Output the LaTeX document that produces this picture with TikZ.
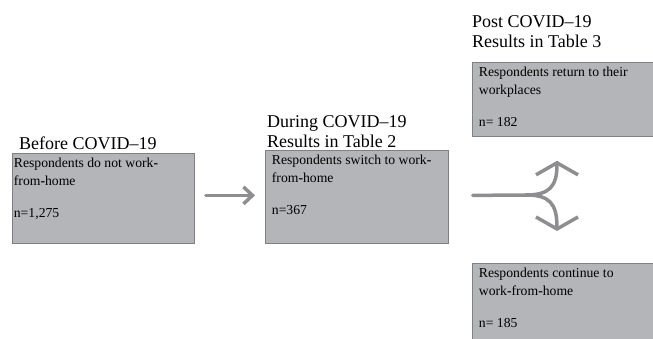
\documentclass[tikz,border=0pt]{standalone}
\usepackage{fontspec}
\setmainfont{Liberation Serif}
\usetikzlibrary{arrows.meta}
\definecolor{boxgray}{RGB}{180,181,184}
\definecolor{edgegray}{RGB}{128,128,130}
\definecolor{arrowgray}{RGB}{142,142,144}
\newcommand{\bh}{\textbf{-}}
\newcommand{\stage}[3]{\begin{minipage}[t][#1pt][t]{#2pt}\fontsize{13.7}{18}\selectfont\raggedright #3\end{minipage}}

\begin{document}
\begin{tikzpicture}[x=1pt, y=-1pt,
    stagebox/.style={draw=edgegray, line width=0.8pt, fill=boxgray, anchor=north west, inner xsep=6.5pt, inner ysep=4.5pt},
    period/.style={anchor=base west, inner sep=0pt, align=left, font=\fontsize{18}{20.5}\selectfont},
    flow/.style={draw=arrowgray, line width=3.5pt, line cap=round, -{Straight Barb[length=9pt, width=17pt]}},
    fork/.style={draw=arrowgray, line width=3.5pt, line cap=round, -{Straight Barb[length=12pt, width=42pt]}}]

  \useasboundingbox (0,0) rectangle (653,339);

  % Period headings (base = last line)
  \node[period] (before title) at (19,150) {Before COVID--19};
  \node[period] (during title) at (267,148) {During COVID--19\\Results in Table 2};
  \node[period] (post title) at (472,48) {Post COVID--19\\Results in Table 3};

  % Boxes
  \node[stagebox, inner xsep=1.5pt] (before) at (12,153)
    {\stage{81}{179}{Respondents do not work\bh\\from\bh home\\[14.5pt]n=1,275}};
  \node[stagebox] (during) at (265,150)
    {\stage{84}{170}{Respondents switch to work\bh\\from\bh home\\[14.5pt]n=367}};
  \node[stagebox] (return) at (472,62)
    {\stage{65}{170}{Respondents return to their\\workplaces\\[14.5pt]n= 182}};
  \node[stagebox] (continue) at (472,263)
    {\stage{84}{170}{Respondents continue to\\work\bh from\bh home\\[14.5pt]n= 185}};

  % Arrows
  \draw[flow] ([xshift=11pt, yshift=3pt]before.east) -- ([xshift=-10pt, yshift=1.5pt]during.west);

  \coordinate (split) at (526,195);
  \draw[fork, -] ([xshift=24pt, yshift=1.5pt]during.east) -- (split);
  \draw[fork] (split) .. controls (549,195) and (557,187) .. ([xshift=85pt, yshift=-24pt]return.south west);
  \draw[fork] (split) .. controls (549,195) and (557,203) .. ([xshift=85pt, yshift=32pt]continue.north west);

\end{tikzpicture}
\end{document}
